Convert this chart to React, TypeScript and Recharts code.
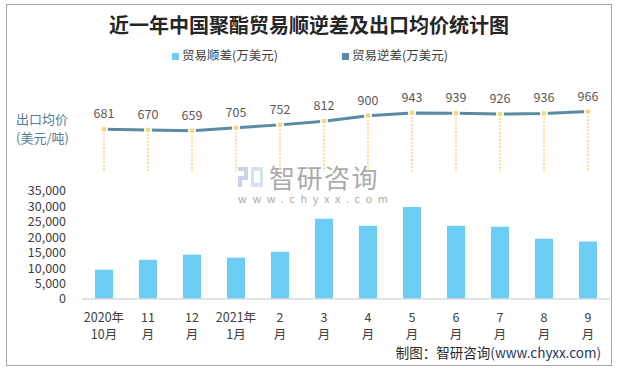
import { BarChart, Bar, XAxis, YAxis, ComposedChart, Line, LabelList } from 'recharts';

const months = ['2020年10月', '11月', '12月', '2021年1月', '2月', '3月', '4月', '5月', '6月', '7月', '8月', '9月'];
const tickTop = ['2020年', '11', '12', '2021年', '2', '3', '4', '5', '6', '7', '8', '9'];
const tickBottom = ['10月', '月', '月', '1月', '月', '月', '月', '月', '月', '月', '月', '月'];
// 贸易顺差(万美元)
const surplus = [9500, 12700, 14400, 13400, 15300, 26000, 23700, 29800, 23700, 23400, 19500, 18600];
// 出口均价(美元/吨)
const exportPrice = [681, 670, 659, 705, 752, 812, 900, 943, 939, 926, 936, 966];
const barTicks = [0, 5000, 10000, 15000, 20000, 25000, 30000, 35000];

const FONT = '"Noto Sans CJK SC", "Noto Sans", sans-serif';
const BAR_COLOR = '#6CCEF5';
const LINE_COLOR = '#5A8BA6';
const DOT_COLOR = '#F8D47C';

const data = months.map((month, i) => ({
    month,
    surplus: surplus[i],
    price: exportPrice[i],
}));

// two-line month label under each bar
// eslint-disable-next-line @typescript-eslint/no-explicit-any
const MonthTick = (props: any) => {
    const { x, y, payload } = props;
    const i = months.indexOf(payload.value);
    return (
        <g>
            <text x={x} y={y + 15} textAnchor="middle" fill="#404040" fontSize={12.5} fontFamily={FONT}>
                {tickTop[i]}
            </text>
            <text x={x} y={y + 32} textAnchor="middle" fill="#404040" fontSize={12.5} fontFamily={FONT}>
                {tickBottom[i]}
            </text>
        </g>
    );
};

// dotted drop line from the price point down to zero
// eslint-disable-next-line @typescript-eslint/no-explicit-any
const DropLine = (props: any) => {
    const { x, y, width, height } = props;
    const cx = x + width / 2;
    return (
        <line
            x1={cx}
            y1={y + 4}
            x2={cx}
            y2={y + height}
            stroke={DOT_COLOR}
            strokeWidth={1.6}
            strokeDasharray="2 1.5"
        />
    );
};

// eslint-disable-next-line @typescript-eslint/no-explicit-any
const PriceDot = (props: any) => {
    const { cx, cy, index } = props;
    return <circle key={index} cx={cx} cy={cy} r={3.2} fill={DOT_COLOR} stroke="#ffffff" strokeWidth={1.5} />;
};

export default function App() {
    return (
        <div style={{ position: 'absolute', left: 0, top: 0, width: 618, height: 369, background: '#fff', fontFamily: FONT }}>
            <div style={{ position: 'absolute', left: 6, top: 4, width: 604, height: 360, border: '1px solid #A6A6A6' }} />

            <div style={{ position: 'absolute', left: 0, top: 10, width: 618, textAlign: 'center', fontSize: 20, fontWeight: 700, color: '#262626', lineHeight: '30px' }}>
                近一年中国聚酯贸易顺逆差及出口均价统计图
            </div>

            {/* legend */}
            <div style={{ position: 'absolute', left: 172, top: 46, fontSize: 12.5, color: '#404040', lineHeight: '18px', whiteSpace: 'nowrap' }}>
                <span style={{ display: 'inline-block', width: 7, height: 7, background: BAR_COLOR, marginRight: 3 }} />
                贸易顺差(万美元)
            </div>
            <div style={{ position: 'absolute', left: 342, top: 46, fontSize: 12.5, color: '#404040', lineHeight: '18px', whiteSpace: 'nowrap' }}>
                <span style={{ display: 'inline-block', width: 7, height: 7, background: LINE_COLOR, marginRight: 3 }} />
                贸易逆差(万美元)
            </div>

            <div style={{ position: 'absolute', left: 16, top: 109, fontSize: 13, color: '#4F7F9B', lineHeight: '19px' }}>
                出口均价
                <br />
                (美元/吨)
            </div>

            {/* watermark */}
            <div style={{ position: 'absolute', left: 238, top: 166 }}>
                <svg width={26} height={22}>
                    <rect x={0} y={1} width={10} height={4} fill="#C9D5E6" />
                    <rect x={6} y={5} width={4} height={7} fill="#C9D5E6" />
                    <rect x={0} y={10} width={10} height={4} fill="#C9D5E6" />
                    <rect x={0} y={14} width={4} height={7} fill="#C9D5E6" />
                    <rect x={13} y={1} width={12} height={20} fill="#D6E0EE" />
                    <rect x={16} y={5} width={6} height={12} fill="#fff" />
                </svg>
            </div>
            <div style={{ position: 'absolute', left: 269, top: 164, fontSize: 26, color: '#ABABAB', lineHeight: '26px', letterSpacing: 1.5 }}>
                智研咨询
            </div>
            <div style={{ position: 'absolute', left: 238, top: 192, fontSize: 11, color: '#ABABAB', lineHeight: '12px', letterSpacing: 5.6 }}>
                www.chyxx.com
            </div>

            <div style={{ position: 'absolute', left: 0, top: 0 }}>
                <BarChart width={618} height={369} data={data} margin={{ top: 191, right: 8, left: 12, bottom: 30 }}>
                    <XAxis
                        dataKey="month"
                        interval={0}
                        tick={<MonthTick />}
                        tickLine={false}
                        axisLine={{ stroke: '#D9D9D9', strokeWidth: 1.5 }}
                        height={40}
                    />
                    <YAxis
                        domain={[0, 35000]}
                        ticks={barTicks}
                        interval={0}
                        tickFormatter={(v: number) => v.toLocaleString('en-US')}
                        tickLine={false}
                        axisLine={false}
                        tickMargin={10}
                        width={70}
                        tick={{ fill: '#404040', fontSize: 12.5, fontFamily: FONT }}
                    />
                    <Bar dataKey="surplus" fill={BAR_COLOR} barSize={18} isAnimationActive={false} />
                </BarChart>
            </div>

            <div style={{ position: 'absolute', left: 0, top: 0 }}>
                <ComposedChart width={618} height={369} data={data} margin={{ top: 78.5, right: 8, left: 82, bottom: 197.5 }}>
                    <XAxis dataKey="month" hide />
                    <YAxis domain={[0, 1500]} hide />
                    <Bar dataKey="price" barSize={2} shape={<DropLine />} isAnimationActive={false} />
                    <Line
                        dataKey="price"
                        stroke={LINE_COLOR}
                        strokeWidth={3}
                        dot={<PriceDot />}
                        activeDot={false}
                        isAnimationActive={false}
                    >
                        <LabelList dataKey="price" position="top" offset={11} fill="#595959" fontSize={12.5} fontFamily={FONT} />
                    </Line>
                </ComposedChart>
            </div>

            <div style={{ position: 'absolute', right: 17, top: 342, fontSize: 13.5, color: '#262626', lineHeight: '20px', whiteSpace: 'nowrap' }}>
                制图：智研咨询<span style={{ color: '#203864' }}>(www.chyxx.com)</span>
            </div>
        </div>
    );
}
